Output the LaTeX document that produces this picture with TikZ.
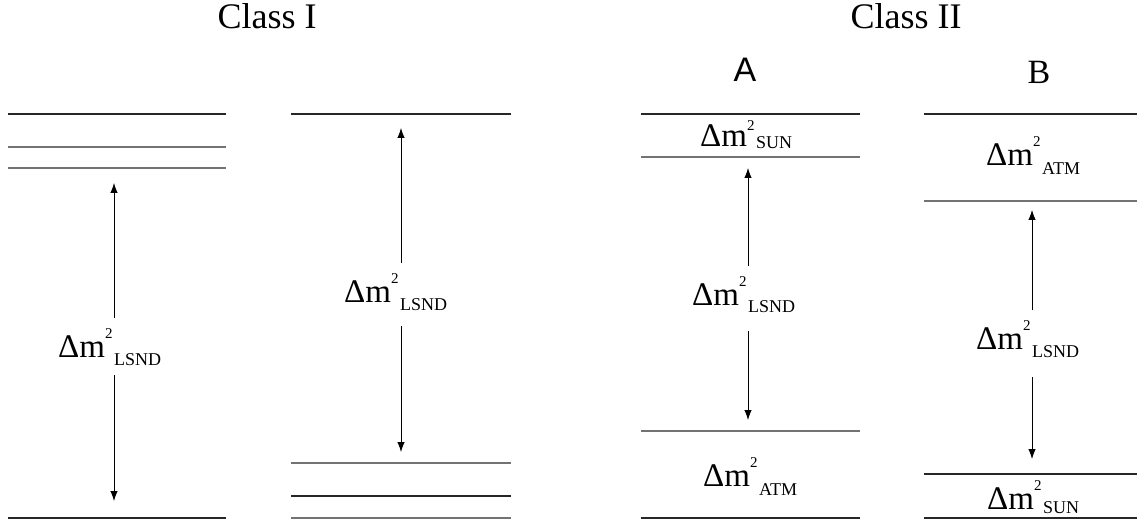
\documentclass[tikz,border=0pt]{standalone}
\usepackage{fontspec}
\setmainfont{Liberation Serif}
\newfontfamily\sansA{Liberation Sans}
\usetikzlibrary{arrows.meta}
% #1 raise of the 2, #2 drop of the subscript, #3 subscript
\newcommand\dmsq[3][19pt]{\fontsize{33}{33}\selectfont Δm\raisebox{#1}{\fontsize{15}{15}\selectfont 2}\hspace{1.5pt}\raisebox{-#2}{\fontsize{18}{18}\selectfont #3}}
\tikzset{
  lev/.style={line width=1.2pt, draw=black!85},
  levg/.style={line width=1.2pt, draw=black!55},
  arr/.style={line width=0.8pt, -{Latex[length=10pt,width=7.5pt]}},
  dm/.style={anchor=base west, inner sep=0pt},
  head/.style={anchor=base, inner sep=0pt, font=\fontsize{36}{36}\selectfont},
}
\begin{document}
\begin{tikzpicture}[x=1pt,y=-1pt]
\useasboundingbox (0,0) rectangle (1137,521);
% headings
\node[head] (c1) at (267,29) {Class I};
\node[head] (c2) at (906,29) {Class II};
\node[anchor=base, inner sep=0pt, font=\sansA\fontsize{34}{34}\selectfont] (hA) at (745,82) {A};
\node[anchor=base, inner sep=0pt, font=\fontsize{34}{34}\selectfont] (hB) at (1039,84) {B};
% column 1
\draw[lev] (8,114) -- (226,114);
\draw[levg] (8,147) -- (226,147);
\draw[levg] (8,168) -- (226,168);
\draw[lev] (8,518) -- (226,518);
\coordinate (t1) at (114,183);
\coordinate (b1) at (114,501);
\node[dm] (l1) at (58,357) {\dmsq{8pt}{LSND}};
\draw[arr] ([yshift=10pt]l1.north -| t1) -- (t1);
\draw[arr] ([yshift=-10pt]l1.south -| b1) -- (b1);
% column 2
\draw[lev] (291,114) -- (511,114);
\draw[levg] (291,463) -- (511,463);
\draw[lev] (291,496) -- (511,496);
\draw[levg] (291,518) -- (511,518);
\coordinate (t2) at (401,128);
\coordinate (b2) at (401,452);
\node[dm] (l2) at (344,302) {\dmsq{8pt}{LSND}};
\draw[arr] ([yshift=10pt]l2.north -| t2) -- (t2);
\draw[arr] ([yshift=-16pt]l2.south -| b2) -- (b2);
% column 3 (A)
\draw[lev] (641,114) -- (860,114);
\draw[levg] (641,157) -- (860,157);
\draw[levg] (641,431) -- (860,431);
\draw[lev] (641,518) -- (860,518);
\node[dm] (s3) at (700,147) {\dmsq[16pt]{2pt}{SUN}};
\coordinate (t3) at (748,168);
\coordinate (b3) at (748,420);
\node[dm] (l3) at (692,305) {\dmsq{8pt}{LSND}};
\draw[arr] ([yshift=10pt]l3.north -| t3) -- (t3);
\draw[arr] ([yshift=-18pt]l3.south -| b3) -- (b3);
\node[dm] (a3) at (703,486) {\dmsq{9pt}{ATM}};
% column 4 (B)
\draw[lev] (924,114) -- (1137,114);
\draw[levg] (924,201) -- (1137,201);
\draw[lev] (924,474) -- (1137,474);
\draw[lev] (924,518) -- (1137,518);
\node[dm] (a4) at (986,166) {\dmsq{9pt}{ATM}};
\coordinate (t4) at (1032,210);
\coordinate (b4) at (1032,459);
\node[dm] (l4) at (976,349) {\dmsq{8pt}{LSND}};
\draw[arr] ([yshift=10pt]l4.north -| t4) -- (t4);
\draw[arr] ([yshift=-20pt]l4.south -| b4) -- (b4);
\node[dm] (s4) at (987,509) {\dmsq{4pt}{SUN}};
\end{tikzpicture}
\end{document}
